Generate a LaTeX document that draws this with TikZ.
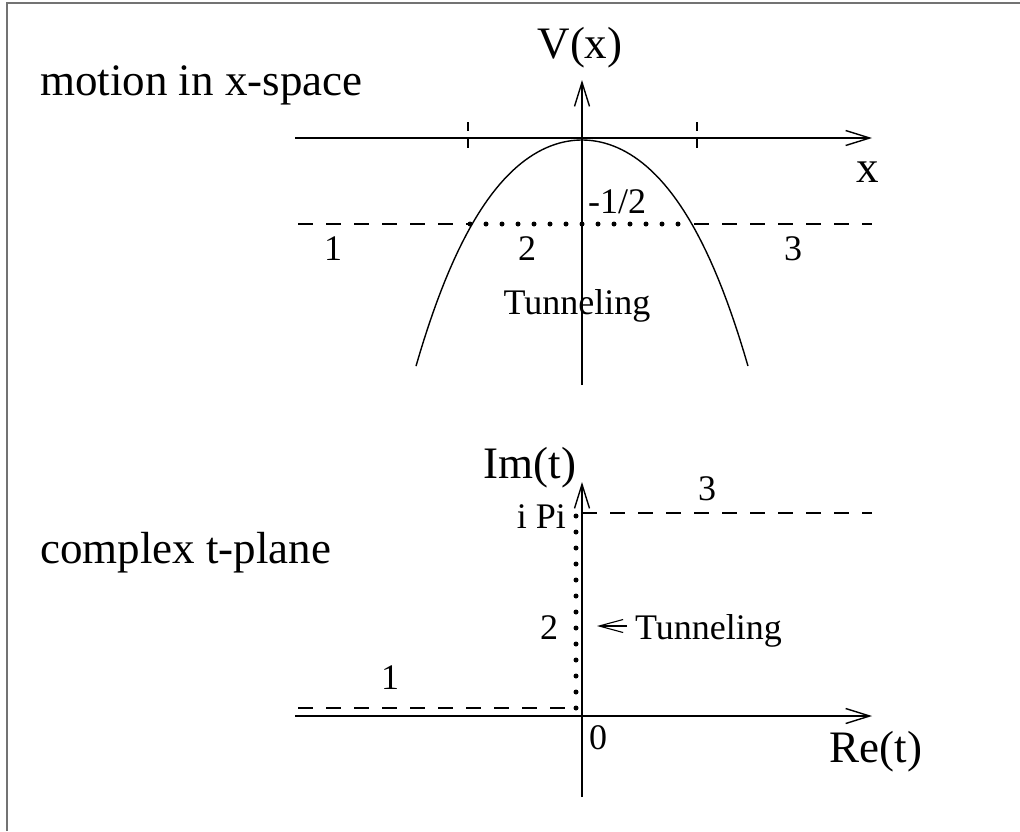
\documentclass[tikz,border=0pt]{standalone}
\usepackage{fontspec}
\setmainfont{Liberation Serif}
\usetikzlibrary{arrows.meta}
\begin{document}
\begin{tikzpicture}[x=1pt,y=-1pt,
  axis/.style={line width=1.4pt,-{Straight Barb[length=24pt,width=15pt,line width=1.4pt]}},
  curveline/.style={line width=1.4pt},
  dashedline/.style={line width=1.3pt,dash pattern=on 15pt off 13pt},
  tickline/.style={line width=1.3pt,dash pattern=on 9pt off 8pt},
  dottedline/.style={line width=5pt,line cap=round,dash pattern=on 0pt off 16pt},
  big/.style={font=\fontsize{45}{50}\selectfont,inner sep=0pt},
  small/.style={font=\fontsize{36}{40}\selectfont,inner sep=0pt},
  frame/.style={draw=black!55,line width=2pt}
]
\useasboundingbox (0,0) rectangle (1020,831);
% frame
\coordinate (fbl) at (7,831);
\coordinate (ftl) at (7,3);
\coordinate (ftr) at (1020,3);
\draw[frame] (fbl) -- (ftl) -- (ftr);

% ---------- upper: motion in x-space ----------
\coordinate (vbot) at (582,385);
\coordinate (vtop) at (582,80);
\coordinate (xl) at (295,138);
\coordinate (xr) at (872,138);
\draw[axis] (vbot) -- (vtop);
\draw[axis] (xl) -- (xr);
\coordinate (t1a) at (468,122); \coordinate (t1b) at (468,152);
\coordinate (t2a) at (697,122); \coordinate (t2b) at (697,152);
\draw[tickline] (t1a) -- (t1b);
\draw[tickline] (t2a) -- (t2b);
\draw[curveline] plot[domain=-1.66:1.66,samples=80]
  ({582+100*\x},{140+60*\x*\x+8*\x*\x*\x*\x});
\coordinate (dl) at (298,224);
\coordinate (c1) at (470,224);
\coordinate (d2) at (678,224);
\coordinate (c2) at (694,224);
\coordinate (dr) at (872,224);
\draw[dashedline] (dl) -- (c1);
\draw[dashedline] (c2) -- (dr);
\draw[dottedline] (c1) -- (d2);

\node[big,anchor=base west] (mot) at (40,95) {motion in x-space};
\node[big,anchor=base] (vx) at (580,58) {V(x)};
\node[big,anchor=base] (xlab) at (868,182) {x};
\node[small,anchor=base] (mhalf) at (617,213) {-1/2};
\node[small,anchor=base] (r1) at (333,260) {1};
\node[small,anchor=base] (r2) at (527,260) {2};
\node[small,anchor=base] (r3) at (793,260) {3};
\node[small,anchor=base] (tun) at (577,314) {Tunneling};

% ---------- lower: complex t-plane ----------
\coordinate (ibot) at (582,797);
\coordinate (itop) at (582,482);
\coordinate (rl) at (295,716);
\coordinate (rr) at (872,716);
\draw[axis] (ibot) -- (itop);
\draw[axis] (rl) -- (rr);
\coordinate (b1) at (298,708);
\coordinate (b2) at (576,708);
\coordinate (p1) at (576,513);
\coordinate (p2) at (582,513);
\coordinate (p3) at (872,513);
\draw[dashedline] (b1) -- (b2);
\draw[dashedline] (p2) -- (p3);
\draw[dottedline] (b2) -- (p1);

\node[big,anchor=base west] (cpl) at (40,563) {complex t-plane};
\node[big,anchor=base] (imt) at (530,478) {Im(t)};
\node[small,anchor=base east] (ipi) at (566,528) {i Pi};
\node[small,anchor=base] (l3) at (707,500) {3};
\node[small,anchor=base] (l2) at (549,639) {2};
\node[small,anchor=base west] (tun2) at (635,639) {Tunneling};
\coordinate (ae) at (627,626);
\coordinate (aw) at (597,626);
\draw[line width=1.1pt,-{Straight Barb[length=24pt,width=13pt,line width=1.1pt]}] (ae) -- (aw);
\node[small,anchor=base] (l1) at (390,689) {1};
\node[small,anchor=base] (zero) at (598,749) {0};
\node[big,anchor=base] (ret) at (876,762) {Re(t)};
\end{tikzpicture}
\end{document}
